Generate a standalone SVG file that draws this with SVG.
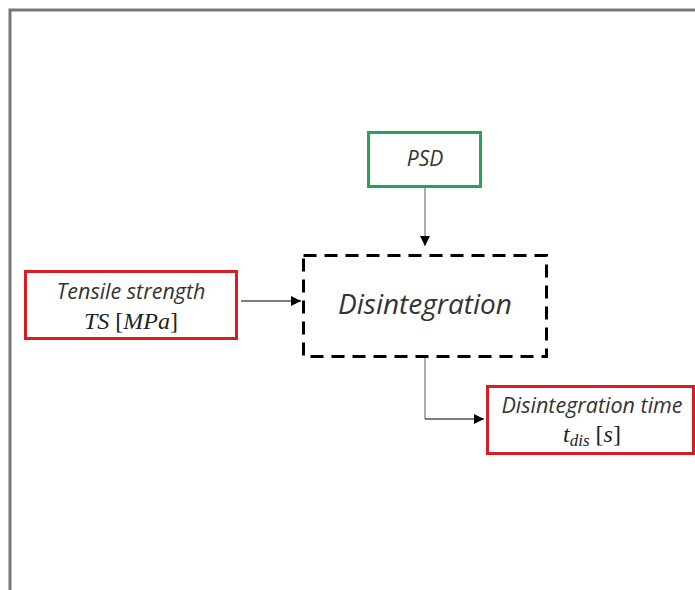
<svg xmlns="http://www.w3.org/2000/svg" width="695" height="590" viewBox="0 0 695 590">
  <defs>
    <marker id="arrow" viewBox="0 0 10 10" refX="10" refY="5" markerWidth="10" markerHeight="10" markerUnits="userSpaceOnUse" orient="auto">
      <path d="M0,0 L10,5 L0,10 Z" fill="#000"/>
    </marker>
    <style>
      .lbl { font-family: "Open Sans", "Noto Sans", sans-serif; font-style: italic; fill: #333; text-anchor: middle; }
      .math { font-family: "Liberation Serif", "DejaVu Serif", serif; fill: #222; text-anchor: middle; font-size: 24px; }
      .red { fill: #fff; stroke: #d81e23; stroke-width: 3; }
      .conn { fill: none; stroke: #777; stroke-width: 1.2; }
      .connk { fill: none; stroke: #000; stroke-width: 1.2; }
    </style>
  </defs>
  <rect width="695" height="590" fill="#fff"/>
  <!-- outer frame, running past the right and bottom edges -->
  <path d="M10,600 L10,10 L705,10" fill="none" stroke="#777" stroke-width="3"/>

  <g id="connectors">
    <path class="conn" d="M425,187 L425,246" marker-end="url(#arrow)"/>
    <path class="connk" d="M241,301 L301,301" marker-end="url(#arrow)"/>
    <path class="conn" d="M425,358 L425,419"/>
    <path class="connk" d="M425,419 L484,419" marker-end="url(#arrow)"/>
  </g>

  <g id="psd">
    <rect x="368.5" y="132.5" width="112" height="54" fill="#fff" stroke="#25a453" stroke-width="3"/>
    <text class="lbl" x="425" y="166" font-size="21">PSD</text>
  </g>

  <g id="tensile">
    <rect class="red" x="25.5" y="271.5" width="211" height="67"/>
    <text class="lbl" x="131" y="299" font-size="21.5">Tensile strength</text>
    <text class="math" x="131" y="329"><tspan font-style="italic">TS</tspan> [<tspan font-style="italic">MPa</tspan>]</text>
  </g>

  <g id="disintegration">
    <rect x="303.5" y="255.5" width="243" height="101" fill="none" stroke="#000" stroke-width="3" stroke-dasharray="13 8"/>
    <text class="lbl" x="425" y="314" font-size="28">Disintegration</text>
  </g>

  <g id="disintegration-time">
    <rect class="red" x="487.5" y="386.5" width="206" height="67"/>
    <text class="lbl" x="592" y="413" font-size="21.5">Disintegration time</text>
    <text class="math" x="592" y="442"><tspan font-style="italic">t</tspan><tspan font-style="italic" font-size="17" dy="4">dis</tspan><tspan dy="-4"> [</tspan><tspan font-style="italic">s</tspan>]</text>
  </g>
</svg>
